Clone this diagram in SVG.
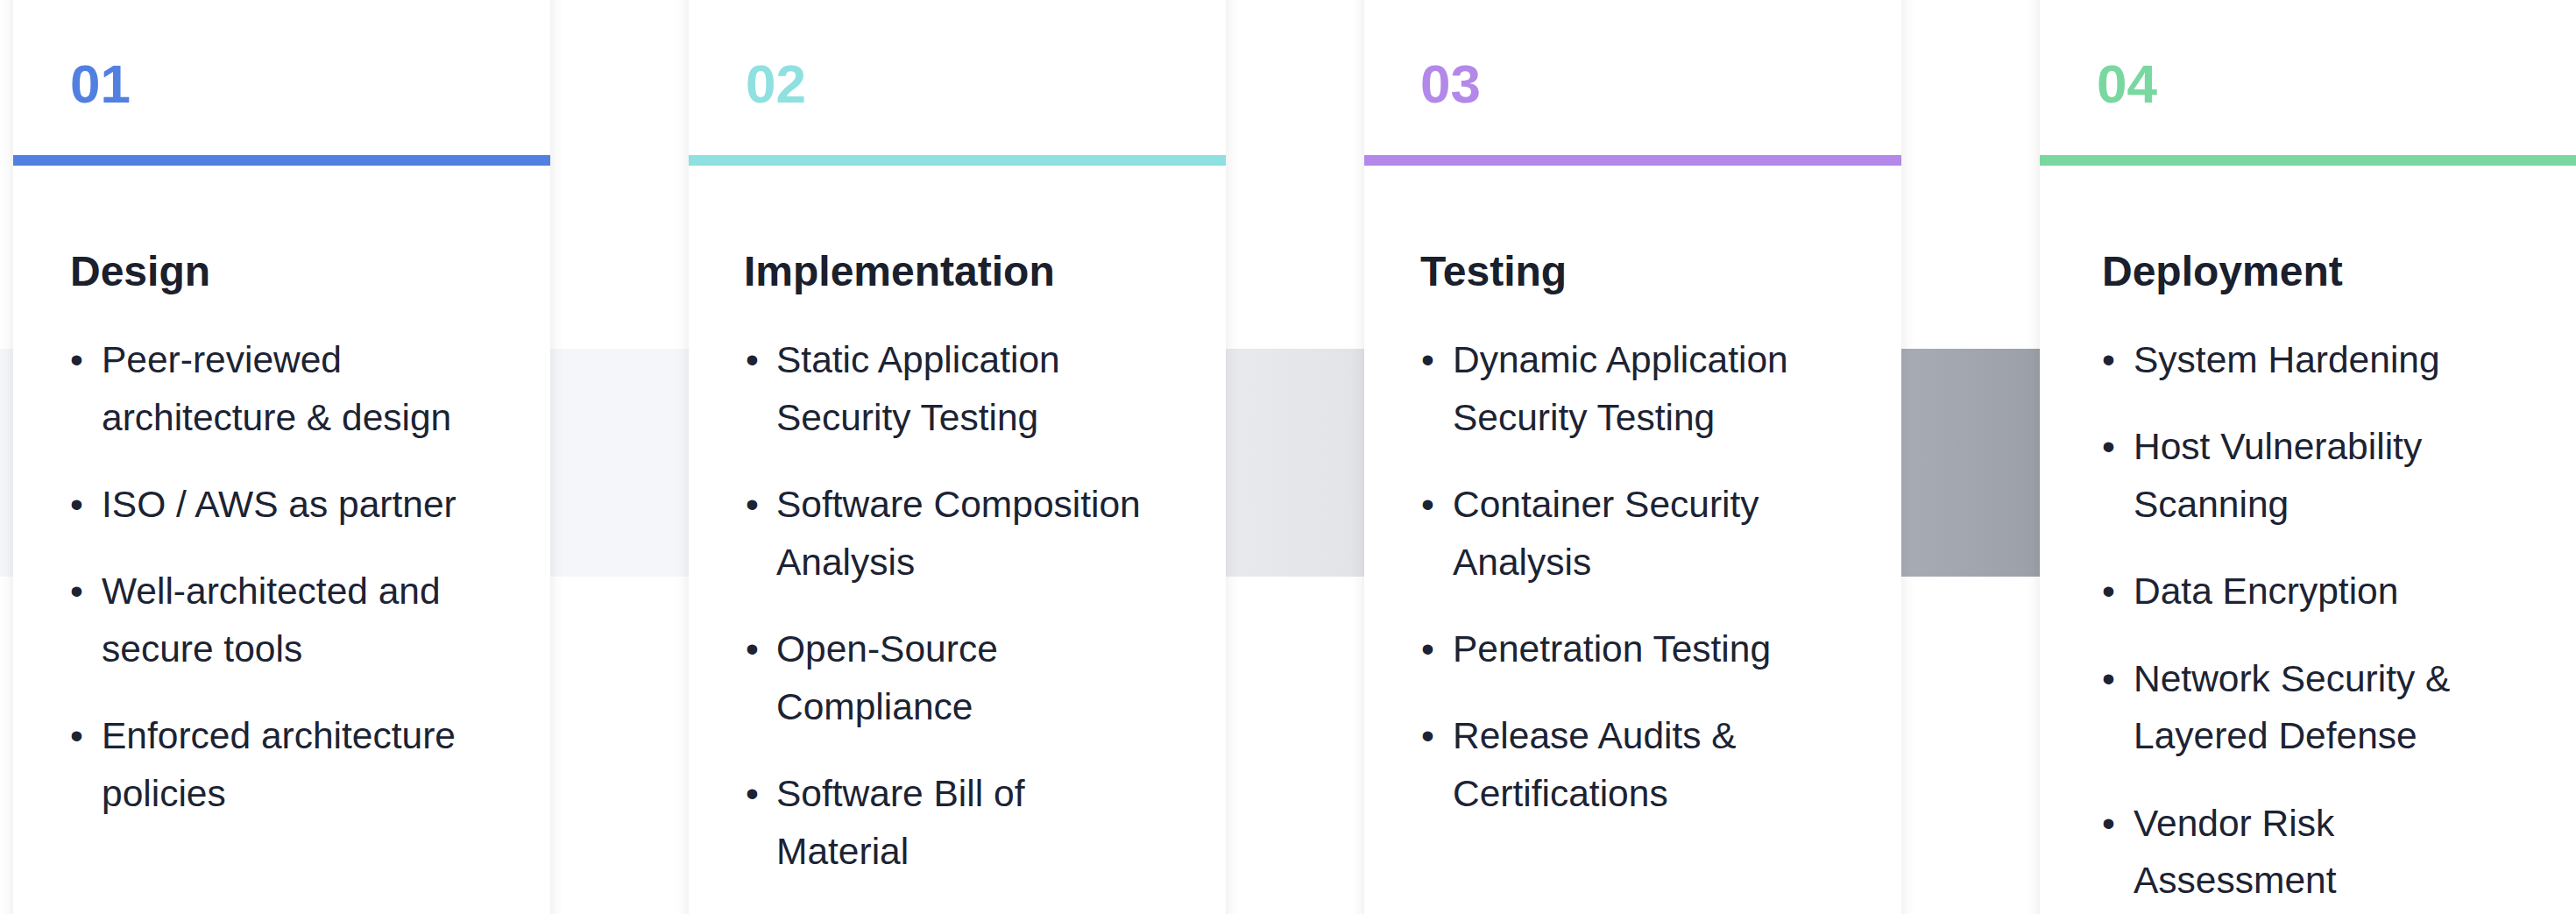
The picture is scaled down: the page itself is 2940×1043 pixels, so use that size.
<svg xmlns="http://www.w3.org/2000/svg" width="2940" height="1043" viewBox="0 0 2940 1043">
<style>
  .card { fill: #ffffff; }
  .num { font-family: "Liberation Sans", Arial, sans-serif; font-weight: 700; font-size: 62px; }
  .title { font-family: "Liberation Sans", Arial, sans-serif; font-weight: 700; font-size: 48px; fill: #1a202c; }
  .item { font-family: "Liberation Sans", Arial, sans-serif; font-size: 42.5px; fill: #1c2333; }
  .c1 { fill: #5180e1; }
  .c2 { fill: #8fe0e0; }
  .c3 { fill: #b388e9; }
  .c4 { fill: #78d8a0; }
</style>
<defs>
  <filter id="shadow" x="-10%" y="-10%" width="120%" height="120%">
    <feDropShadow dx="0" dy="0" stdDeviation="8" flood-color="#000000" flood-opacity="0.09"/>
  </filter>
  <linearGradient id="band" gradientUnits="userSpaceOnUse" x1="0" y1="0" x2="2940" y2="0">
    <stop offset="0" stop-color="#f4f6fa"/>
    <stop offset="0.27" stop-color="#f4f6fa"/>
    <stop offset="0.475" stop-color="#e8eaee"/>
    <stop offset="0.53" stop-color="#e1e3e7"/>
    <stop offset="0.74" stop-color="#a7abb3"/>
    <stop offset="0.79" stop-color="#9ca0a9"/>
    <stop offset="1" stop-color="#7c828d"/>
  </linearGradient>
</defs>
<rect x="0" y="0" width="2940" height="1043" fill="#ffffff"/>
<g id="connectors">
  <rect x="0" y="398" width="2940" height="260" fill="url(#band)"/>
</g>
<g id="card-design">
  <rect class="card" x="15" y="-30" width="613" height="1103" filter="url(#shadow)"/>
  <text class="num c1" x="80" y="117">01</text>
  <rect class="c1" x="15" y="177" width="613" height="12"/>
  <text class="title" x="80" y="326">Design</text>
  <g class="item">
    <text x="80" y="425">•</text><text x="116" y="425">Peer-reviewed</text>
    <text x="116" y="490.6">architecture &amp; design</text>
    <text x="80" y="590">•</text><text x="116" y="590">ISO / AWS as partner</text>
    <text x="80" y="689.4">•</text><text x="116" y="689.4">Well-architected and</text>
    <text x="116" y="755">secure tools</text>
    <text x="80" y="854.4">•</text><text x="116" y="854.4">Enforced architecture</text>
    <text x="116" y="920">policies</text>
  </g>
</g>
<g id="card-implementation">
  <rect class="card" x="786" y="-30" width="613" height="1103" filter="url(#shadow)"/>
  <text class="num c2" x="851" y="117">02</text>
  <rect class="c2" x="786" y="177" width="613" height="12"/>
  <text class="title" x="849" y="326">Implementation</text>
  <g class="item">
    <text x="851" y="425">•</text><text x="886" y="425">Static Application</text>
    <text x="886" y="490.6">Security Testing</text>
    <text x="851" y="590">•</text><text x="886" y="590">Software Composition</text>
    <text x="886" y="655.6">Analysis</text>
    <text x="851" y="755">•</text><text x="886" y="755">Open-Source</text>
    <text x="886" y="820.6">Compliance</text>
    <text x="851" y="920">•</text><text x="886" y="920">Software Bill of</text>
    <text x="886" y="985.6">Material</text>
  </g>
</g>
<g id="card-testing">
  <rect class="card" x="1557" y="-30" width="613" height="1103" filter="url(#shadow)"/>
  <text class="num c3" x="1621" y="117">03</text>
  <rect class="c3" x="1557" y="177" width="613" height="12"/>
  <text class="title" x="1621" y="326">Testing</text>
  <g class="item">
    <text x="1622" y="425">•</text><text x="1658" y="425">Dynamic Application</text>
    <text x="1658" y="490.6">Security Testing</text>
    <text x="1622" y="590">•</text><text x="1658" y="590">Container Security</text>
    <text x="1658" y="655.6">Analysis</text>
    <text x="1622" y="755">•</text><text x="1658" y="755">Penetration Testing</text>
    <text x="1622" y="854.4">•</text><text x="1658" y="854.4">Release Audits &amp;</text>
    <text x="1658" y="920">Certifications</text>
  </g>
</g>
<g id="card-deployment">
  <rect class="card" x="2328" y="-30" width="640" height="1103" filter="url(#shadow)"/>
  <text class="num c4" x="2393" y="117">04</text>
  <rect class="c4" x="2328" y="177" width="640" height="12"/>
  <text class="title" x="2399" y="326">Deployment</text>
  <g class="item">
    <text x="2399" y="425">•</text><text x="2435" y="425">System Hardening</text>
    <text x="2399" y="524.4">•</text><text x="2435" y="524.4">Host Vulnerability</text>
    <text x="2435" y="590">Scanning</text>
    <text x="2399" y="689.4">•</text><text x="2435" y="689.4">Data Encryption</text>
    <text x="2399" y="788.8">•</text><text x="2435" y="788.8">Network Security &amp;</text>
    <text x="2435" y="854.4">Layered Defense</text>
    <text x="2399" y="953.8">•</text><text x="2435" y="953.8">Vendor Risk</text>
    <text x="2435" y="1019.4">Assessment</text>
  </g>
</g>
</svg>
